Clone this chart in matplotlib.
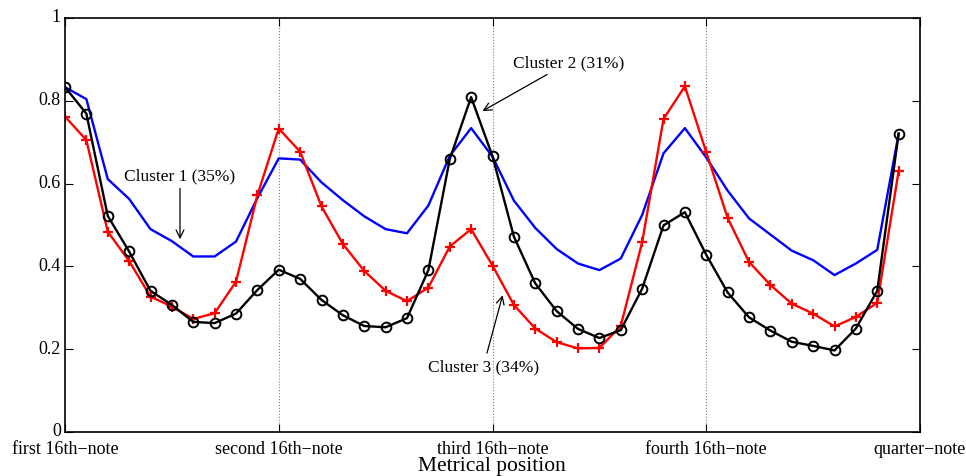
import numpy as np
import matplotlib
matplotlib.use("Agg")
import matplotlib.pyplot as plt
import matplotlib.transforms as mtrans

plt.rcParams['font.family'] = ['Liberation Serif', 'DejaVu Serif']

# posiciones métricas (0..39), ticks en 0,10,20,30,40
positions = np.arange(40)
tick_pos = [0, 10, 20, 30, 40]
tick_labels = ["first 16th\u2212note", "second 16th\u2212note", "third 16th\u2212note",
               "fourth 16th\u2212note", "quarter\u2212note"]

cluster1 = [0.833, 0.804, 0.611, 0.563, 0.490, 0.461, 0.424, 0.424, 0.460, 0.565,
            0.661, 0.658, 0.603, 0.560, 0.521, 0.490, 0.480, 0.547, 0.667, 0.734,
            0.665, 0.559, 0.493, 0.442, 0.407, 0.391, 0.419, 0.524, 0.673, 0.734,
            0.663, 0.583, 0.516, 0.477, 0.438, 0.415, 0.379, 0.407, 0.440, 0.720]

cluster2 = [0.833, 0.769, 0.522, 0.436, 0.341, 0.307, 0.266, 0.263, 0.286, 0.343,
            0.392, 0.370, 0.319, 0.282, 0.256, 0.253, 0.275, 0.391, 0.659, 0.809,
            0.666, 0.472, 0.359, 0.292, 0.249, 0.227, 0.246, 0.346, 0.499, 0.531,
            0.428, 0.337, 0.277, 0.245, 0.218, 0.208, 0.197, 0.250, 0.341, 0.721]

cluster3 = [0.762, 0.705, 0.484, 0.413, 0.327, 0.303, 0.273, 0.287, 0.363, 0.572,
            0.733, 0.677, 0.545, 0.454, 0.389, 0.341, 0.316, 0.349, 0.448, 0.490,
            0.402, 0.307, 0.250, 0.217, 0.202, 0.203, 0.256, 0.458, 0.756, 0.835,
            0.676, 0.517, 0.411, 0.355, 0.310, 0.286, 0.255, 0.278, 0.312, 0.630]

fig = plt.figure(figsize=(9.66, 4.77), dpi=100)
ax = fig.add_axes([65/966, 1 - 433/477, (920-65)/966, (433-19)/477])

ax.plot(positions, cluster1, color='blue', lw=1.7)
ax.plot(positions, cluster3, color='red', lw=1.7, marker='+', ms=7, mew=1.6)
ax.plot(positions, cluster2, color='black', lw=1.7, marker='o', ms=7,
        mfc='none', mew=1.4)

# líneas punteadas verticales
for xv in [10, 20, 30]:
    ax.axvline(xv, color='gray', ls=':', lw=0.8, zorder=0)

ax.set_xlim(0, 40)
ax.set_ylim(0, 1)
ax.set_xticks(tick_pos)
ax.set_xticklabels(tick_labels, fontsize=13)
ax.set_yticks([0, 0.2, 0.4, 0.6, 0.8, 1])
ax.set_yticklabels(["0", "0.2", "0.4", "0.6", "0.8", "1"], fontsize=13)
ax.tick_params(direction='in', top=True, right=True, length=6, width=0.8, pad=3)
ax.tick_params(axis='x', pad=6)
for sp in ax.spines.values():
    sp.set_linewidth(1.2)

# subir un poco las etiquetas del eje y para que "0" no choque
shift = mtrans.ScaledTranslation(0, 3/100, fig.dpi_scale_trans)
for lbl in ax.get_yticklabels():
    lbl.set_transform(lbl.get_transform() + shift)

# etiqueta del eje x, colocada a mano como en la figura original
fig.text(492/966, 1 - 467/477, "Metrical position", fontsize=15.5,
         ha='center', va='center')

# anotaciones
arrow = dict(arrowstyle='->', color='black', lw=0.9, mutation_scale=14)
ax.annotate("Cluster 1 (35%)", xy=(5.38, 0.459), xytext=(5.38, 0.621),
            ha='center', va='center', fontsize=12.5, arrowprops=arrow)
ax.annotate("Cluster 2 (31%)", xy=(19.42, 0.772), xytext=(20.96, 0.893),
            ha='left', va='center', fontsize=12.5, arrowprops=arrow)
ax.annotate("Cluster 3 (34%)", xy=(20.51, 0.337), xytext=(19.57, 0.158),
            ha='center', va='center', fontsize=12.5, arrowprops=arrow)

fig.savefig("out.png", dpi=100)
